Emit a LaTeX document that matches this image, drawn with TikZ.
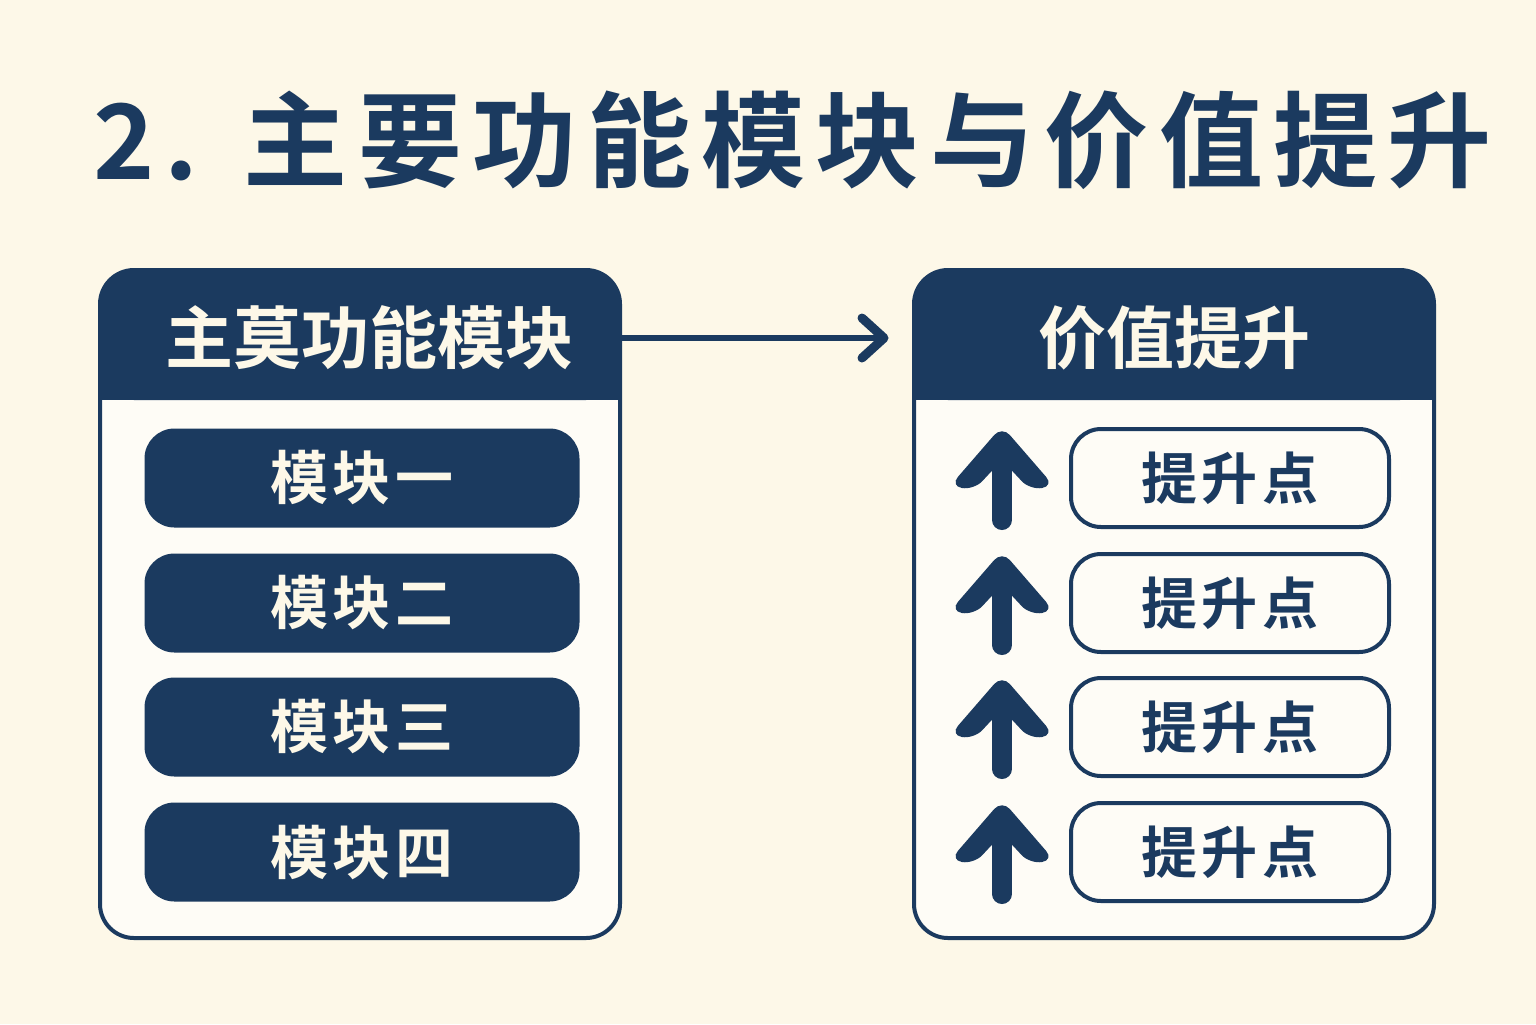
\documentclass[tikz,border=0pt]{standalone}
\usepackage{fontspec}
\newfontfamily\cjkb{Noto Sans CJK SC Bold}
\newfontfamily\cjkt[LetterSpace=10]{Noto Sans CJK SC Bold}
\newfontfamily\cjkm[LetterSpace=8]{Noto Sans CJK SC Bold}
\definecolor{navy}{HTML}{1B3A5F}
\definecolor{bg}{HTML}{FDF8E8}
\begin{document}
\begin{tikzpicture}[x=0.5pt,y=-0.5pt,
  panel/.style={draw=navy,line width=2pt,rounded corners=17pt,fill=white!60!bg},
  modbox/.style={fill=navy,rounded corners=15pt,minimum width=217.5pt,minimum height=49.5pt,text=bg,font=\cjkm\fontsize{29}{30}\selectfont},
  ptbox/.style={draw=navy,line width=2pt,fill=white!60!bg,rounded corners=15pt,minimum width=159pt,minimum height=49pt,text=navy,font=\cjkm\fontsize{28}{30}\selectfont},
  uparrow/.style={draw=navy,line width=10pt,line cap=round,line join=round}]
\fill[bg] (0,0) rectangle (1536,1024);
\node[anchor=west,text=navy,font=\cjkt\fontsize{52}{55}\selectfont] (title) at (86,140) {2. 主要功能模块与价值提升};
% left panel
\draw[panel] (100,270) rectangle (620,938);
\fill[navy,rounded corners=17pt] (100,270) rectangle (620,400);
\fill[navy] (100,360) rectangle (620,400);
\node[text=bg,font=\cjkb\fontsize{34}{36}\selectfont] (lh) at (369,338) {主莫功能模块};
\node[modbox] (m1) at (362,478) {模块一};
\node[modbox] (m2) at (362,603) {模块二};
\node[modbox] (m3) at (362,727) {模块三};
\node[modbox] (m4) at (362,852) {模块四};
% right panel
\draw[panel] (914,270) rectangle (1434,938);
\fill[navy,rounded corners=17pt] (914,270) rectangle (1434,400);
\fill[navy] (914,360) rectangle (1434,400);
\node[text=bg,font=\cjkb\fontsize{34}{36}\selectfont] (rh) at (1174,338) {价值提升};
\coordinate (la) at (622,338);
\coordinate (ra) at (884,338);
\draw[navy,line width=3pt] (la) -- (878,338);
\draw[navy,line width=4.5pt,line cap=round,line join=round] (862,318) -- (ra) -- (862,358);
\foreach \y/\n in {478/1,603/2,727/3,852/4}{
  \node[ptbox] (p\n) at (1230,\y) {提升点};
  \draw[uparrow] (1002,\y+42) -- (1002,\y-35);
  \fill[navy,rounded corners=6pt] (950,\y+8) -- (1002,\y-52) -- (1054,\y+8) -- (1030,\y+12) -- (1002,\y-18) -- (974,\y+12) -- cycle;
}
\end{tikzpicture}
\end{document}
